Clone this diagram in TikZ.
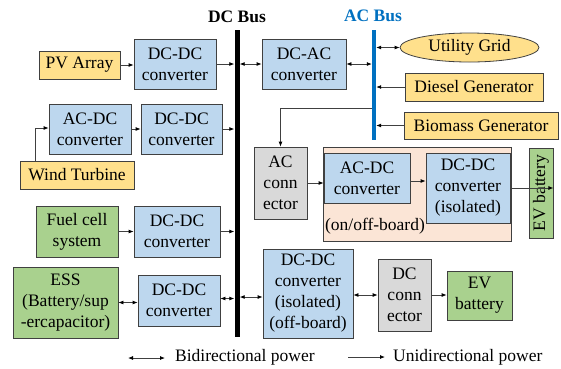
\documentclass[tikz,border=0pt]{standalone}
\usepackage{fontspec}
\setmainfont{Liberation Serif}
\usetikzlibrary{arrows.meta,shapes.geometric}
\definecolor{bluebox}{HTML}{BDD7EE}
\definecolor{yellowbox}{HTML}{FFE08C}
\definecolor{greenbox}{HTML}{A9D18E}
\definecolor{graybox}{HTML}{D9D9D9}
\definecolor{peachbox}{HTML}{FBE5D6}
\definecolor{acblue}{HTML}{0070C0}
\definecolor{edge}{HTML}{404040}
\begin{document}
\begin{tikzpicture}[x=1pt,y=-1pt,
  every node/.style={font=\fontsize{17.5}{21}\selectfont, inner sep=0pt, align=center},
  sz/.style 2 args={minimum width=#1pt, minimum height=#2pt},
  blk/.style={draw=edge, line width=0.8pt},
  conv/.style={blk, fill=bluebox},
  src/.style={blk, fill=yellowbox},
  grn/.style={blk, fill=greenbox},
  gry/.style={blk, fill=graybox},
  tipk/.tip={Latex[length=5pt,width=4pt,color=black]},
  uni/.style={draw=edge, line width=0.8pt, -tipk},
  bi/.style={draw=edge, line width=0.8pt, tipk-tipk}]
\useasboundingbox (0,0) rectangle (561,368);

% buses
\node[fill=black, sz={5}{307}] (dcbus) at (237,183.5) {};
\node[fill=acblue, sz={4}{110}] (acbus) at (374,85) {};
\node[font=\fontsize{17.5}{21}\selectfont\bfseries] (dclab) at (237,17) {DC Bus};
\node[font=\fontsize{17.5}{21}\selectfont\bfseries, text=acblue] (aclab) at (373,16) {AC Bus};

% left side
\node[src, sz={81}{28}] (pv) at (79.5,65) {PV Array};
\node[conv, sz={82}{50}] (dcdc1) at (175,64) {DC-DC\\converter};
\node[conv, sz={82}{50}] (acdc2) at (90,129) {AC-DC\\converter};
\node[conv, sz={81}{50}] (dcdc2) at (181.5,129) {DC-DC\\converter};
\node[src, sz={114}{28}] (wind) at (77,175) {Wind Turbine};
\node[grn, sz={82}{51}] (fuel) at (77,231.5) {Fuel cell\\system};
\node[conv, sz={86}{51}] (dcdc3) at (177,231.5) {DC-DC\\converter};
\node[grn, sz={105}{71}] (ess) at (65.5,302.5) {ESS\\(Battery/sup\\-ercapacitor)};
\node[conv, sz={82}{51}] (dcdc4) at (179,300.5) {DC-DC\\converter};

% right side
\node[conv, sz={84}{50}] (dcac) at (304,64) {DC-AC\\converter};
\node[ellipse, draw=edge, line width=0.8pt, fill=yellowbox, sz={139}{29}] (grid) at (469.5,47.5) {Utility Grid};
\node[src, sz={138}{28}] (diesel) at (474,87) {Diesel Generator};
\node[src, sz={154}{27}] (biomass) at (481,125.5) {Biomass Generator};
\node[gry, sz={53}{72}] (acconn) at (280.5,183) {AC\\conn\\ector};
\node[blk, fill=peachbox, sz={188}{94}] (onoff) at (417,194) {};
\node[conv, sz={86}{50}] (acdcin) at (367,178) {AC-DC\\converter};
\node[conv, sz={84}{70}] (dcdciso) at (468,188) {DC-DC\\converter\\(isolated)};
\node (onofflab) at (375,226) {(on/off-board)};
\node[grn, sz={90}{24}, rotate=90] (evv) at (541,193) {EV battery};
\node[conv, sz={90}{89}] (dcdcoff) at (308,293.5) {DC-DC\\converter\\(isolated)\\(off-board)};
\node[gry, sz={53}{72}] (dcconn) at (404.5,295) {DC\\conn\\ector};
\node[grn, sz={65}{49}] (ev) at (479.5,295.5) {EV\\battery};

% connectors
\draw[uni] (pv.east) -- (pv.east -| dcdc1.west);
\draw[uni] (dcdc1.east) -- (dcdc1.east -| dcbus.west);
\draw[bi] (dcbus.east |- dcac.west) -- (dcac.west);
\draw[bi] (dcac.east) -- (dcac.east -| acbus.west);
\draw[bi] (acbus.east |- grid.west) -- (grid.west);
\draw[uni] (diesel.west) -- (diesel.west -| acbus.east);
\draw[uni] (biomass.west) -- (biomass.west -| acbus.east);
\draw[uni] ([yshift=-23pt]acbus.west) -| (acconn.north);
\draw[uni] ([xshift=16pt]wind.north west) |- ([yshift=1pt]acdc2.west);
\draw[uni] (acdc2.east) -- (dcdc2.west);
\draw[uni] (dcdc2.east) -- (dcdc2.east -| dcbus.west);
\draw[uni] (fuel.east) -- (dcdc3.west);
\draw[uni] (dcdc3.east) -- (dcdc3.east -| dcbus.west);
\draw[bi] (ess.east) -- (ess.east -| dcdc4.west);
\draw[bi] ([yshift=2pt]dcdc4.east) -- ([yshift=2pt]dcdc4.east -| dcbus.west);
\draw[bi] ([yshift=-3.5pt]dcdcoff.west -| dcbus.east) -- ([yshift=-3.5pt]dcdcoff.west);
\draw[bi] (dcdcoff.east |- dcconn.west) -- (dcconn.west);
\draw[uni] (dcconn.east) -- (dcconn.east -| ev.west);
\draw[uni] (acconn.east) -- (acconn.east -| acdcin.west);
\draw[uni] ([yshift=-3pt]acdcin.east) -- ([yshift=-3pt]acdcin.east -| dcdciso.west);
\draw[uni] (dcdciso.east) -- (dcdciso.east -| evv.south);

% legend
\coordinate (lb1) at (128,358);
\coordinate (lb2) at (165,358);
\coordinate (lu1) at (348,357);
\coordinate (lu2) at (385,357);
\draw[bi] (lb1) -- (lb2);
\node[anchor=west] (lbt) at (175,357) {Bidirectional power};
\draw[uni] (lu1) -- (lu2);
\node[anchor=west] (lut) at (393,357) {Unidirectional power};
\end{tikzpicture}
\end{document}
